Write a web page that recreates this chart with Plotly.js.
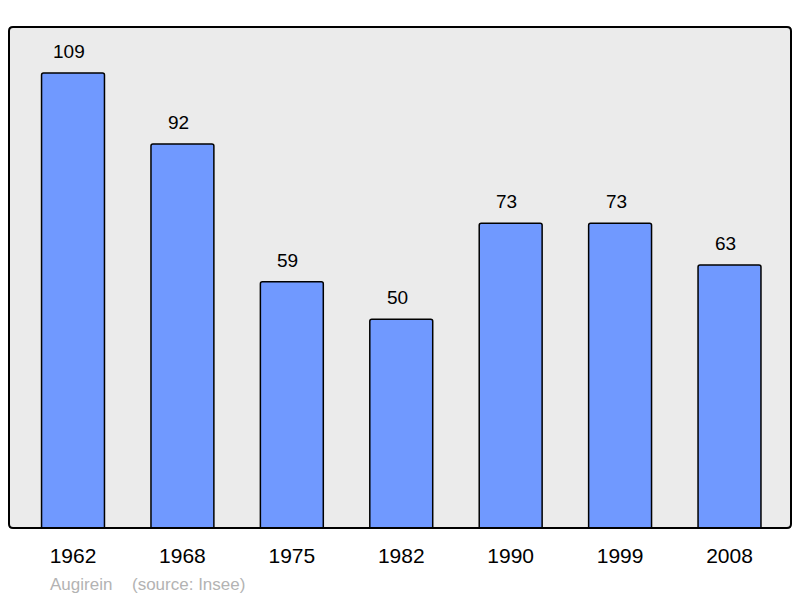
<!DOCTYPE html>
<html>
<head>
<meta charset="utf-8">
<script src="https://cdn.plot.ly/plotly-3.0.1.min.js"></script>
<style>html,body{margin:0;padding:0;background:#fff;}#chart{width:800px;height:598px;}</style>
</head>
<body>
<div id="chart"></div>
<script>
const years = ["1962", "1968", "1975", "1982", "1990", "1999", "2008"];
const population = [109, 92, 59, 50, 73, 73, 63];
const placeName = "Augirein";
const sourceText = "(source: Insee)";

const rx = 4 / 782, ry = 4 / 501;
const borderPath = `M ${rx},0 L ${1-rx},0 Q 1,0 1,${ry} L 1,${1-ry} Q 1,1 ${1-rx},1 L ${rx},1 Q 0,1 0,${1-ry} L 0,${ry} Q 0,0 ${rx},0 Z`;

const valueLabels = years.map((y, i) => ({
  x: i, y: population[i], xref: 'x', yref: 'y',
  text: String(population[i]), showarrow: false,
  yanchor: 'bottom', yshift: 9, xshift: -4,
  font: {family: 'Liberation Sans, Arial, sans-serif', size: 19, color: '#000'}
}));

const footer = [
  {x: 48, text: placeName},
  {x: 130, text: sourceText}
].map(f => ({
  xref: 'paper', yref: 'paper', x: (f.x - 9) / 782, y: -(584 - 528) / 501,
  xanchor: 'left', yanchor: 'middle', showarrow: false, text: f.text,
  font: {family: 'Liberation Sans, Arial, sans-serif', size: 17, color: '#b3b3b3'}
}));

Plotly.newPlot('chart', [{
  type: 'bar', x: years, y: population,
  width: 0.575,
  marker: {color: '#7099ff', line: {color: '#000', width: 1.5}, cornerradius: 2},
  hoverinfo: 'none'
}], {
  width: 800, height: 598,
  margin: {l: 9, r: 9, t: 27, b: 70, pad: 0},
  paper_bgcolor: '#ffffff', plot_bgcolor: '#ebebeb',
  showlegend: false,
  xaxis: {
    type: 'category', range: [-0.585, 6.562], showgrid: false, zeroline: false,
    showline: false, ticks: '', ticklabelstandoff: 13,
    tickfont: {family: 'Liberation Sans, Arial, sans-serif', size: 21, color: '#000'}
  },
  yaxis: {range: [0, 120], visible: false, showgrid: false, zeroline: false},
  shapes: [{type: 'path', xref: 'paper', yref: 'paper', path: borderPath,
    line: {color: '#000', width: 2}, layer: 'above'}],
  annotations: valueLabels.concat(footer)
}, {staticPlot: true});
</script>
</body>
</html>
